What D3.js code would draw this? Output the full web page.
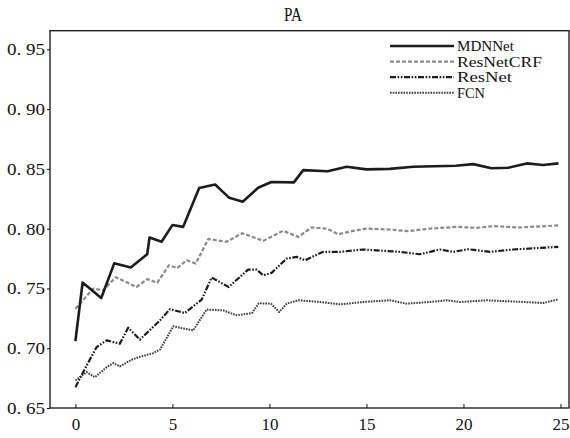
<!DOCTYPE html>
<html><head><meta charset="utf-8">
<script src="https://cdn.jsdelivr.net/npm/d3@7"></script>
<style>body{margin:0;background:#fff}svg{display:block}</style>
</head><body>
<svg id="c" width="570" height="438"></svg>
<script>
const seriesNames = ["MDNNet", "ResNetCRF", "ResNet", "FCN"];
const mdnX = [0, 0.37, 1.33, 2.0, 2.85, 3.70, 3.82, 4.44, 5.0, 5.55, 6.38, 7.2, 7.93, 8.62, 9.42, 10.1, 11.26, 11.74, 13.0, 13.98, 15.0, 16.2, 17.4, 19.6, 20.5, 21.45, 22.3, 23.26, 24.1, 24.9];
const mdnY = [0.706, 0.755, 0.742, 0.771, 0.7675, 0.7786, 0.7926, 0.789, 0.803, 0.8015, 0.834, 0.837, 0.8258, 0.8225, 0.8342, 0.839, 0.8387, 0.849, 0.848, 0.8518, 0.8496, 0.850, 0.8518, 0.8526, 0.854, 0.8505, 0.851, 0.8546, 0.8532, 0.8546];
const crfX = [0, 0.92, 1.43, 2.08, 3.15, 3.7, 4.22, 4.82, 5.25, 5.73, 6.2, 6.85, 7.79, 8.6, 9.68, 10.71, 11.49, 12.17, 12.95, 13.55, 14.32, 15.0, 16.2, 17.15, 18.27, 19.65, 20.68, 21.54, 22.9, 24.89];
const crfY = [0.733, 0.7499, 0.7485, 0.7594, 0.7512, 0.7578, 0.7548, 0.7694, 0.767, 0.7736, 0.7708, 0.7914, 0.789, 0.7962, 0.7898, 0.7982, 0.7931, 0.801, 0.8001, 0.7954, 0.7982, 0.8001, 0.7993, 0.7979, 0.8001, 0.8015, 0.8007, 0.8021, 0.801, 0.8027];
const resX = [0, 0.49, 1.09, 1.61, 2.29, 2.72, 3.32, 4.36, 4.87, 5.64, 6.51, 7.02, 7.9, 8.9, 9.34, 9.68, 10.11, 10.89, 11.4, 11.83, 12.77, 13.63, 14.84, 16.73, 17.76, 18.79, 19.47, 20.25, 21.37, 22.57, 24.89];
const resY = [0.6674, 0.6828, 0.7009, 0.7066, 0.7038, 0.7172, 0.7072, 0.7233, 0.7327, 0.7294, 0.7407, 0.7591, 0.7512, 0.7658, 0.7658, 0.761, 0.763, 0.775, 0.7764, 0.7736, 0.7806, 0.7806, 0.7826, 0.7806, 0.7786, 0.7826, 0.7806, 0.7828, 0.7806, 0.7826, 0.7848];
const fcnX = [0, 0.58, 1.0, 1.61, 1.95, 2.29, 2.9, 3.41, 4.01, 4.36, 5.04, 6.07, 6.76, 7.62, 8.31, 9.1, 9.45, 10.08, 10.5, 10.89, 11.49, 12.6, 13.63, 14.84, 16.2, 17.07, 18.27, 19.13, 19.82, 21.2, 23.08, 24.11, 24.89];
const fcnY = [0.673, 0.68, 0.6758, 0.6842, 0.6875, 0.6848, 0.6904, 0.6932, 0.6959, 0.6988, 0.7183, 0.7149, 0.7323, 0.7317, 0.7275, 0.7294, 0.7376, 0.7373, 0.7303, 0.7373, 0.7401, 0.7387, 0.7367, 0.7387, 0.7401, 0.7373, 0.7387, 0.7401, 0.7387, 0.7401, 0.7387, 0.7378, 0.7409];
const xTicks = [0, 5, 10, 15, 20, 25];
const yTicks = [0.65, 0.70, 0.75, 0.80, 0.85, 0.90, 0.95];
const yTickLabels = ["0. 65", "0. 70", "0. 75", "0. 80", "0. 85", "0. 90", "0. 95"];
const titleText = "PA";

const svg = d3.select("#c");
const L = 50, R = 569, T = 30.7, B = 408;
const x = d3.scaleLinear().domain([-1.31, 25.44]).range([L, R]);
const y = d3.scaleLinear().domain([0.65, 0.9656]).range([B, T]);
const font = "'Liberation Serif', 'DejaVu Serif', serif";

const styles = [
  {color: "#1c1c1c", width: 2.6, dash: null},
  {color: "#8a8a8a", width: 2.2, dash: "4,2"},
  {color: "#1c1c1c", width: 2.2, dash: "6,1.6,1.6,1.6,1.6,1.6"},
  {color: "#3c3c3c", width: 2.0, dash: "1.6,1.1"}
];
const data = [[mdnX, mdnY], [crfX, crfY], [resX, resY], [fcnX, fcnY]].map(([xs, ys]) => xs.map((v, i) => [v, ys[i]]));

const line = d3.line().x(d => x(d[0])).y(d => y(d[1]));
const g = svg.append("g");
[3, 2, 1, 0].forEach(i => {
  g.append("path").datum(data[i]).attr("d", line)
    .attr("fill", "none").attr("stroke", styles[i].color)
    .attr("stroke-width", styles[i].width)
    .attr("stroke-dasharray", styles[i].dash)
    .attr("stroke-linejoin", "round");
});

svg.append("rect").attr("x", L).attr("y", T).attr("width", R - L).attr("height", B - T)
  .attr("fill", "none").attr("stroke", "#111").attr("stroke-width", 1.3);

const ax = svg.append("g").attr("transform", `translate(0,${B})`)
  .call(d3.axisBottom(x).tickValues(xTicks).tickFormat(d3.format("d")).tickSizeInner(-4).tickSizeOuter(0).tickPadding(10));
ax.select(".domain").remove();
ax.selectAll("text").attr("font-family", font).attr("font-size", 17).attr("fill", "#111");
ax.selectAll("line").attr("stroke", "#111");

const ay = svg.append("g").attr("transform", `translate(${L},0)`)
  .call(d3.axisLeft(y).tickValues(yTicks).tickFormat((d, i) => yTickLabels[i]).tickSizeInner(3).tickSizeOuter(0).tickPadding(2));
ay.select(".domain").remove();
ay.selectAll("text").attr("font-family", font).attr("font-size", 17).attr("fill", "#111")
  .attr("textLength", 38).attr("lengthAdjust", "spacingAndGlyphs");
ay.selectAll("line").attr("stroke", "#111");

svg.append("text").attr("x", 293).attr("y", 21).attr("text-anchor", "middle")
  .attr("font-family", font).attr("font-size", 18).attr("fill", "#111")
  .attr("textLength", 18).attr("lengthAdjust", "spacingAndGlyphs").text(titleText);

const legLens = [57, 85, 55, 28];
const legY0 = 46, legDy = 15.6;
seriesNames.forEach((name, i) => {
  const yy = legY0 + i * legDy;
  svg.append("line").attr("x1", 390).attr("x2", 454).attr("y1", yy).attr("y2", yy)
    .attr("stroke", styles[i].color).attr("stroke-width", styles[i].width)
    .attr("stroke-dasharray", styles[i].dash);
  svg.append("text").attr("x", 457).attr("y", yy + 5)
    .attr("font-family", font).attr("font-size", 14).attr("fill", "#111")
    .attr("textLength", legLens[i]).attr("lengthAdjust", "spacingAndGlyphs").text(name);
});
</script>
</body></html>
